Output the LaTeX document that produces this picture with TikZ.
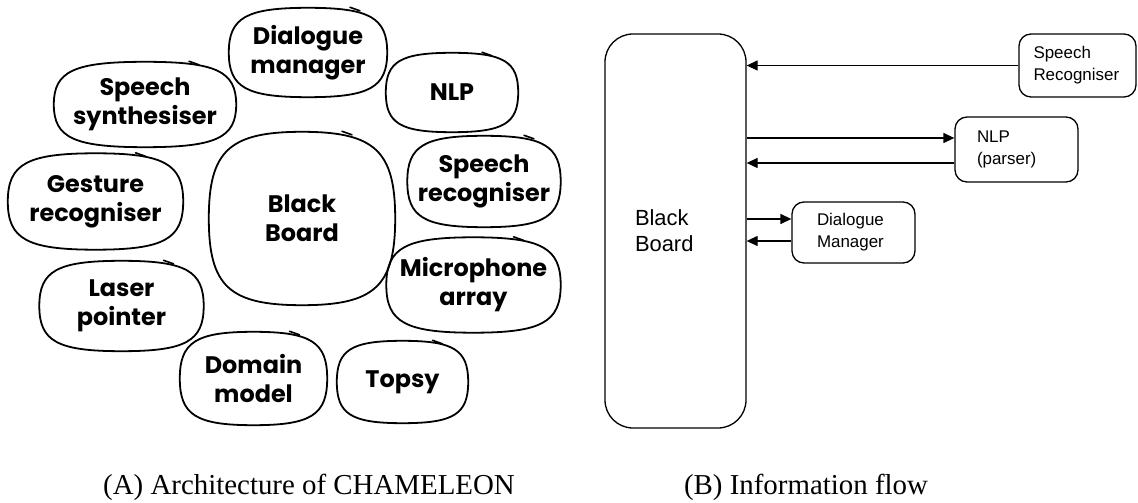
\documentclass[tikz,border=0pt]{standalone}
\usepackage{fontspec}
\setmainfont{Liberation Serif}
\newfontfamily\handfont{Poppins}
\newfontfamily\arialfont{Liberation Sans}
\usetikzlibrary{arrows.meta,calc}

\begin{document}
\begin{tikzpicture}[x=1bp,y=-1bp,
  blob/.style={align=center, inner sep=0pt,
    font=\handfont\bfseries\fontsize{24}{29}\selectfont},
  outline/.style={line width=1.8bp, line join=round},
  tickline/.style={line width=1.6bp, line cap=round},
  rbox/.style={draw, line width=1.3bp, rounded corners=12bp, inner sep=0pt,
    align=left, font=\arialfont\fontsize{17}{22}\selectfont},
  arr/.style={line width=1.3bp, -{Triangle[length=11bp,width=10bp]}},
  caption/.style={font=\fontsize{29}{34}\selectfont, anchor=base, inner sep=0pt}]
\useasboundingbox (0,0) rectangle (1138,503);

% ---------- (A) modules around the black board ----------
\node[blob, minimum width=158bp, minimum height=89bp] (dlg) at (308,52.5) {Dialogue\\manager};
\node[blob, minimum width=182bp, minimum height=85bp] (syn) at (145,104.5) {Speech\\synthesiser};
\node[blob, minimum width=132bp, minimum height=79bp] (nlpA) at (452,92.5) {NLP};
\node[blob, minimum width=153bp, minimum height=91bp] (rec) at (484,181.5) {Speech\\recogniser};
\node[blob, minimum width=175bp, minimum height=96bp] (ges) at (95.5,201.5) {Gesture\\recogniser};
\node[blob, minimum width=186bp, minimum height=173bp] (bbA) at (302,218.5) {Black\\Board};
\node[blob, minimum width=174bp, minimum height=95bp] (mic) at (473.5,285) {Microphone\\array};
\node[blob, minimum width=164bp, minimum height=90bp] (las) at (121.5,306) {Laser\\pointer};
\node[blob, minimum width=147bp, minimum height=93bp] (dom) at (253.5,378.5) {Domain\\model};
\node[blob, minimum width=131bp, minimum height=82bp] (tps) at (402.5,382) {Topsy};

% hand-drawn superellipse outlines, with the pen overlap near the top right
\foreach \n/\d in {dlg/42, syn/44, nlpA/30, rec/40, ges/40, bbA/40, mic/40, las/42, dom/36, tps/30}{
  \draw[outline]
    (\n.north) .. controls ($(\n.north)!0.78!(\n.north east)$) and ($(\n.east)!0.78!(\n.north east)$) .. (\n.east)
               .. controls ($(\n.east)!0.78!(\n.south east)$) and ($(\n.south)!0.78!(\n.south east)$) .. (\n.south)
               .. controls ($(\n.south)!0.78!(\n.south west)$) and ($(\n.west)!0.78!(\n.south west)$) .. (\n.west)
               .. controls ($(\n.west)!0.78!(\n.north west)$) and ($(\n.north)!0.78!(\n.north west)$) .. (\n.north) -- cycle;
  \draw[tickline] ([xshift=\d bp, yshift=0.5bp]\n.north) -- ++(10,3.5);
}

% ---------- (B) information flow ----------
\node[rbox, minimum width=141bp, minimum height=394bp, rounded corners=28bp,
  text width=81bp, font=\arialfont\fontsize{22}{26}\selectfont] (bb) at (675.5,231) {Black\\Board};
\node[rbox, minimum width=117bp, minimum height=63bp, text width=88bp] (sr) at (1077.5,65.5) {Speech\\Recogniser};
\node[rbox, minimum width=123bp, minimum height=65bp, text width=79bp] (nlp) at (1016.5,149.5) {NLP\\(parser)};
\node[rbox, minimum width=123bp, minimum height=61bp, text width=73bp] (dm) at (853.5,232.5) {Dialogue\\Manager};

\coordinate (n1) at ([yshift=11.5bp]nlp.west);
\coordinate (n2) at ([yshift=-13.5bp]nlp.west);
\coordinate (d1) at ([yshift=13.5bp]dm.west);
\coordinate (d2) at ([yshift=-8.5bp]dm.west);

\draw[arr] (sr.west) -- (sr.west -| bb.east);
\draw[arr] (bb.east |- n1) -- (n1);
\draw[arr] (n2) -- (bb.east |- n2);
\draw[arr] (bb.east |- d1) -- (d1);
\draw[arr] (d2) -- (bb.east |- d2);

% ---------- captions ----------
\node[caption] (capA) at (309,494) {(A) Architecture of CHAMELEON};
\node[caption] (capB) at (806,494) {(B) Information flow};
\end{tikzpicture}
\end{document}
